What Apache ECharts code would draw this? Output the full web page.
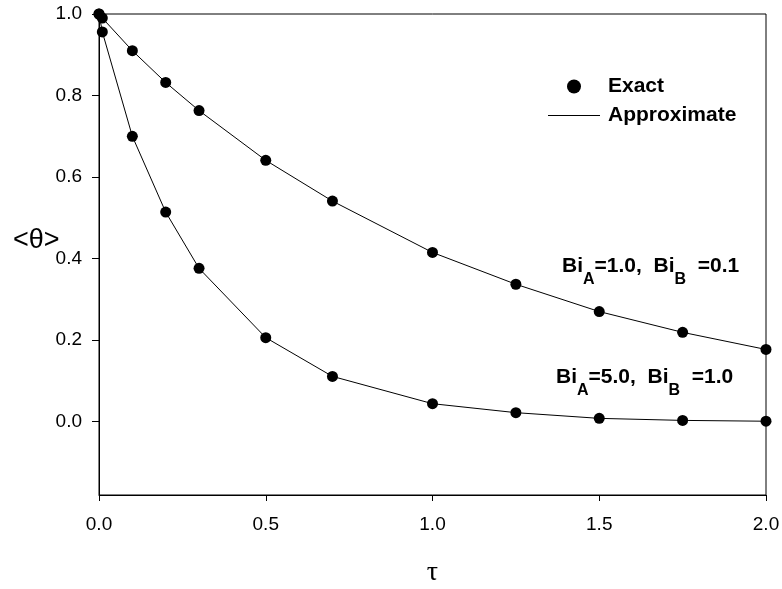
<!DOCTYPE html>
<html>
<head>
<meta charset="utf-8">
<title>Mean temperature vs time</title>
<script src="https://cdn.jsdelivr.net/npm/echarts@6/dist/echarts.min.js"></script>
<style>
  html, body { margin: 0; padding: 0; background: #fff; }
  #chart { width: 782px; height: 589px; }
</style>
</head>
<body>
<div id="chart"></div>
<script>
// Dimensionless time values
const tau = [0, 0.01, 0.1, 0.2, 0.3, 0.5, 0.7, 1.0, 1.25, 1.5, 1.75, 2.0];

// Mean temperature <theta>, Bi_A = 1.0, Bi_B = 0.1
const thetaCase1 = [1.0, 0.990, 0.910, 0.832, 0.763, 0.641, 0.541, 0.415, 0.337, 0.270, 0.219, 0.177];

// Mean temperature <theta>, Bi_A = 5.0, Bi_B = 1.0
const thetaCase2 = [1.0, 0.956, 0.700, 0.514, 0.376, 0.206, 0.111, 0.044, 0.022, 0.008, 0.003, 0.001];

// Axis tick values
const xTicks = [0, 0.5, 1.0, 1.5, 2.0];
const yTicks = [0, 0.2, 0.4, 0.6, 0.8, 1.0];

const pairs = (ys) => tau.map((t, i) => [t, ys[i]]);

const FONT = 'Liberation Sans, Arial, sans-serif';
const chart = echarts.init(document.getElementById('chart'), null, { renderer: 'canvas' });

const dotStyle = { color: '#000', opacity: 1 };
const lineStyle = { color: '#000', width: 1 };

// Curve label with subscripted Biot numbers
const annot = (left, top, a, b) => ({
  type: 'text',
  left: left,
  top: top,
  style: {
    text: '{n|Bi}{s|A}{n|=' + a + ',  Bi}{s|B}{n|  =' + b + '}',
    rich: {
      n: { fontFamily: FONT, fontWeight: 'bold', fontSize: 21, fill: '#000', lineHeight: 32, verticalAlign: 'top' },
      s: { fontFamily: FONT, fontWeight: 'bold', fontSize: 16, fill: '#000', lineHeight: 32, verticalAlign: 'bottom' }
    }
  }
});

chart.setOption({
  backgroundColor: '#fff',
  animation: false,
  grid: {
    left: 99, right: 16, top: 14, bottom: 94,
    outerBoundsMode: 'none', containLabel: false,
    show: true, borderColor: '#000', borderWidth: 1, backgroundColor: 'transparent'
  },
  legend: {
    orient: 'vertical',
    left: 543, top: 71,
    itemWidth: 52, itemHeight: 14, itemGap: 8,
    textStyle: { fontFamily: FONT, fontWeight: 'bold', fontSize: 21, color: '#000', padding: [0, 0, 0, 3], lineHeight: 19 },
    data: [
      { name: 'Exact', icon: 'circle' },
      { name: 'Approximate', icon: 'path://M0 0H52V1H0Z' }
    ]
  },
  xAxis: {
    type: 'value', min: 0, max: 2.0,
    name: 'τ', nameLocation: 'middle', nameGap: 64,
    nameTextStyle: { fontFamily: 'Liberation Serif, Times New Roman, serif', fontSize: 28, color: '#000' },
    axisLine: { onZero: false, lineStyle: { color: '#000', width: 1 } },
    axisTick: { show: true, length: 6, customValues: xTicks, lineStyle: { color: '#000' } },
    axisLabel: { customValues: xTicks, margin: 20, fontFamily: FONT, fontSize: 19, color: '#000',
                 formatter: (v) => v.toFixed(1) },
    splitLine: { show: false }
  },
  yAxis: {
    type: 'value', min: -0.18, max: 1.0,
    axisLine: { onZero: false, lineStyle: { color: '#000', width: 1 } },
    axisTick: { show: true, length: 7, customValues: yTicks, lineStyle: { color: '#000' } },
    axisLabel: { customValues: yTicks, margin: 17, fontFamily: FONT, fontSize: 19, color: '#000',
                 formatter: (v) => v.toFixed(1) },
    splitLine: { show: false }
  },
  series: [
    { name: 'Approximate', type: 'line', data: pairs(thetaCase1), symbol: 'none',
      lineStyle: lineStyle, itemStyle: { color: '#000' }, z: 2 },
    { name: 'Approximate', type: 'line', data: pairs(thetaCase2), symbol: 'none',
      lineStyle: lineStyle, itemStyle: { color: '#000' }, z: 2 },
    { name: 'Exact', type: 'scatter', data: pairs(thetaCase1), symbolSize: 11, itemStyle: dotStyle, z: 3 },
    { name: 'Exact', type: 'scatter', data: pairs(thetaCase2), symbolSize: 11, itemStyle: dotStyle, z: 3 }
  ],
  graphic: [
    // y-axis title
    {
      type: 'text', left: 13, top: 227,
      style: { text: '<θ>', fontFamily: FONT, fontSize: 27, fill: '#000' }
    },
    annot(562, 256, '1.0', '0.1'),
    annot(556, 367, '5.0', '1.0')
  ]
});
</script>
</body>
</html>
